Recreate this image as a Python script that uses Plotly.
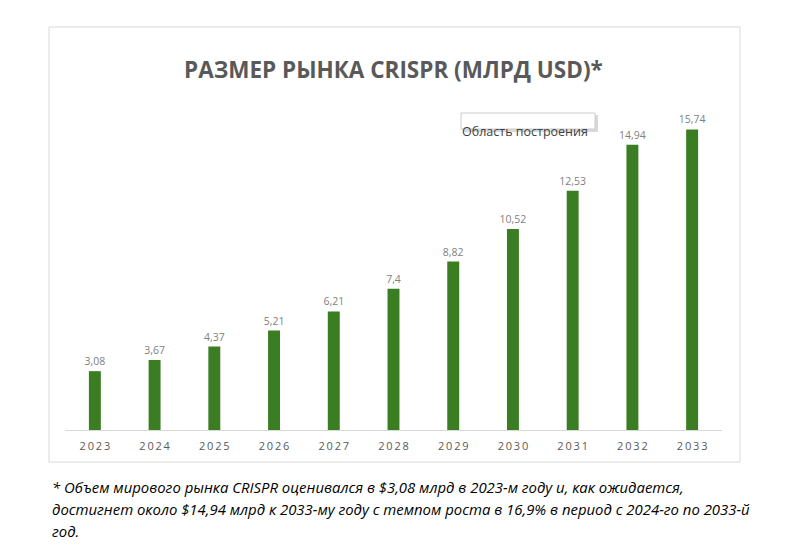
import plotly.graph_objects as go

years = ["2023", "2024", "2025", "2026", "2027", "2028", "2029", "2030", "2031", "2032", "2033"]
market = [3.08, 3.67, 4.37, 5.21, 6.21, 7.4, 8.82, 10.52, 12.53, 14.94, 15.74]
labels = ["3,08", "3,67", "4,37", "5,21", "6,21", "7,4", "8,82", "10,52", "12,53", "14,94", "15,74"]

title_text = "РАЗМЕР РЫНКА CRISPR (МЛРД USD)*"
tooltip_text = "Область построения"
footnote_lines = [
    "* Объем мирового рынка CRISPR оценивался в $3,08 млрд в 2023-м году и, как ожидается,",
    "достигнет около $14,94 млрд к 2033-му году с темпом роста в 16,9% в период с 2024-го по 2033-й",
    "год.",
]

# page body has an 8px margin, so the figure starts at (8, 8)
OFF = 8
W, H = 800 - OFF, 551 - OFF

def px(x):
    return (x - OFF) / W

def py(y):
    return 1 - (y - OFF) / H

spaced = ["\u2009".join(y) for y in years]

fig = go.Figure()
fig.add_trace(go.Bar(
    x=years, y=market,
    marker=dict(color="#3B7D23", line=dict(width=0)),
    width=0.2,
    text=labels, textposition="outside", constraintext="none",
    textfont=dict(family="Open Sans", size=10.5, color="#7F7F7F"),
    cliponaxis=False,
))

annotations = [
    dict(text="<b>" + title_text + "</b>", xref="paper", yref="paper", x=px(393), y=py(52),
         showarrow=False, font=dict(family="Open Sans", size=22.5, color="#595959")),
    dict(text=tooltip_text, xref="paper", yref="paper", x=px(525), y=py(121),
         showarrow=False, font=dict(family="Open Sans", size=12.5, color="#404040")),
]
for i, line in enumerate(footnote_lines):
    annotations.append(dict(text="<i>" + line + "</i>", xref="paper", yref="paper",
                            x=px(50), y=py(487 + 22 * i), xanchor="left", yanchor="middle",
                            showarrow=False,
                            font=dict(family="Open Sans", size=14.9, color="black")))

fig.update_layout(
    width=W, height=H,
    margin=dict(l=0, r=0, t=0, b=0),
    paper_bgcolor="white", plot_bgcolor="white",
    showlegend=False,
    xaxis=dict(domain=[px(65), px(722)], tickvals=years, ticktext=spaced,
               showgrid=False, showline=True, linecolor="#D9D9D9", linewidth=1,
               ticks="", ticklabelstandoff=6,
               tickfont=dict(family="Open Sans", size=11, color="#595959")),
    yaxis=dict(domain=[py(430), py(100)], range=[0, 17.28], visible=False),
    shapes=[
        dict(type="rect", xref="paper", yref="paper", x0=px(49), x1=px(740), y0=py(462), y1=py(27),
             line=dict(color="#D9D9D9", width=1)),
        dict(type="rect", xref="paper", yref="paper", x0=px(463), x1=px(598), y0=py(132), y1=py(115),
             line=dict(width=0), fillcolor="rgba(0,0,0,0.15)"),
        dict(type="rect", xref="paper", yref="paper", x0=px(461), x1=px(595), y0=py(129), y1=py(113),
             line=dict(color="#CCCCCC", width=1), fillcolor="white"),
    ],
    annotations=annotations,
)

fig.write_html("out.html")
